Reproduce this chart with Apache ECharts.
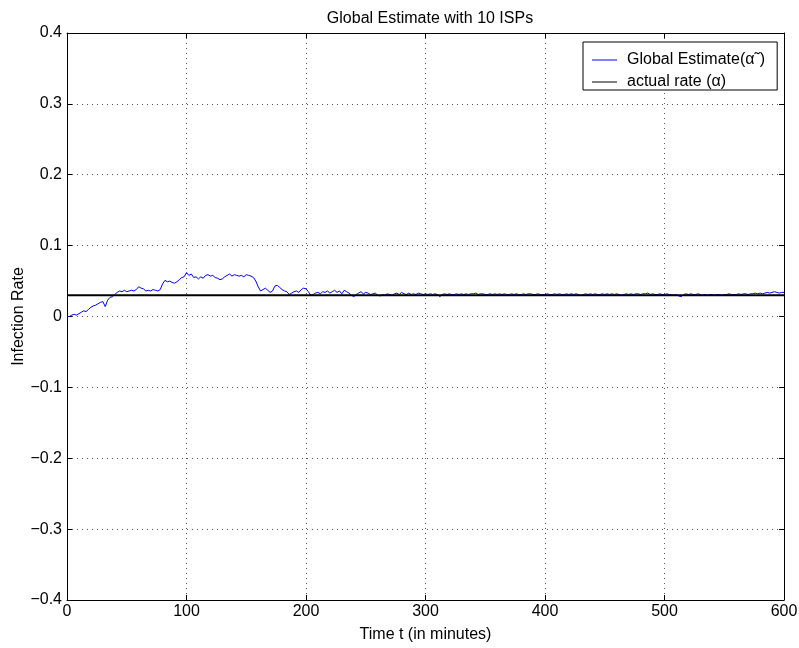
<!DOCTYPE html>
<html>
<head>
<meta charset="utf-8">
<script src="https://cdn.jsdelivr.net/npm/echarts@6/dist/echarts.min.js"></script>
<style>html,body{margin:0;padding:0;background:#fff;}#c{width:799px;height:648px;}</style>
</head>
<body>
<div id="c"></div>
<script>
var titleText = 'Global Estimate with 10 ISPs';
var xName = 'Time t (in minutes)';
var yName = 'Infection Rate';
var seriesNames = ['Global Estimate(\u03B1\u02DC)', 'actual rate (\u03B1)'];
var timeStep = 2; // minutes between samples
var estimate = [
 0.000,0.000,0.002,0.003,0.002,0.004,0.006,0.008,0.007,0.010,
 0.013,0.015,0.016,0.018,0.020,0.021,0.014,0.023,0.027,0.028,
 0.031,0.034,0.036,0.035,0.037,0.035,0.036,0.037,0.036,0.038,
 0.042,0.040,0.039,0.036,0.037,0.036,0.038,0.037,0.036,0.038,
 0.046,0.051,0.049,0.050,0.048,0.047,0.049,0.052,0.055,0.056,
 0.062,0.058,0.060,0.055,0.056,0.053,0.056,0.054,0.058,0.059,
 0.057,0.058,0.055,0.054,0.052,0.053,0.056,0.058,0.060,0.057,
 0.059,0.058,0.057,0.058,0.056,0.059,0.058,0.057,0.055,0.050,
 0.042,0.036,0.038,0.040,0.037,0.034,0.036,0.043,0.044,0.041,
 0.038,0.036,0.035,0.031,0.033,0.035,0.036,0.034,0.038,0.040,
 0.039,0.035,0.030,0.031,0.033,0.034,0.032,0.035,0.034,0.036,
 0.033,0.035,0.037,0.034,0.036,0.032,0.037,0.035,0.033,0.030,
 0.028,0.031,0.033,0.035,0.032,0.034,0.033,0.031,0.032,0.033,
 0.030,0.029,0.031,0.030,0.032,0.031,0.030,0.032,0.033,0.031,
 0.034,0.032,0.031,0.033,0.031,0.032,0.031,0.033,0.032,0.031,
 0.032,0.031,0.032,0.031,0.032,0.031,0.028,0.031,0.032,0.031,
 0.032,0.031,0.031,0.032,0.031,0.032,0.031,0.032,0.031,0.032,
 0.032,0.033,0.031,0.032,0.032,0.031,0.031,0.032,0.031,0.032,
 0.031,0.032,0.031,0.032,0.031,0.031,0.032,0.031,0.032,0.031,
 0.031,0.032,0.031,0.032,0.032,0.031,0.031,0.032,0.031,0.031,
 0.031,0.032,0.031,0.031,0.032,0.031,0.032,0.031,0.031,0.032,
 0.031,0.032,0.031,0.032,0.031,0.030,0.031,0.032,0.031,0.032,
 0.031,0.032,0.031,0.031,0.032,0.031,0.032,0.031,0.032,0.031,
 0.032,0.031,0.030,0.031,0.032,0.031,0.032,0.031,0.032,0.032,
 0.031,0.032,0.032,0.033,0.031,0.032,0.031,0.031,0.032,0.031,
 0.031,0.032,0.031,0.031,0.030,0.031,0.029,0.028,0.031,0.032,
 0.031,0.032,0.031,0.031,0.032,0.031,0.030,0.031,0.030,0.031,
 0.031,0.030,0.031,0.031,0.030,0.031,0.031,0.032,0.031,0.031,
 0.031,0.032,0.031,0.032,0.032,0.031,0.032,0.032,0.033,0.032,
 0.033,0.032,0.033,0.034,0.033,0.034,0.035,0.034,0.033,0.034,
 0.034
];
var actualRate = 0.03;
var actualSpan = [0, 600];
var xTicks = [0, 600, 100];
var yTicks = [-0.4, 0.4, 0.1];

var estData = estimate.map(function (v, i) { return [i * timeStep, v]; });
var actData = actualSpan.map(function (t) { return [t, actualRate]; });

function fmtY(v) {
  var s = Math.abs(v) < 1e-9 ? '0' : v.toFixed(1);
  return s.replace('-', '\u2212');
}
var FONT = 'Liberation Sans, Arial, Helvetica, sans-serif';
var FS = 16;
var gridLine = { show: true, lineStyle: { color: '#555', width: 1, type: [1, 4] } };
var axisLine = { show: true, onZero: false, lineStyle: { color: '#000', width: 1 } };
var tick = { show: true, inside: true, length: 5, lineStyle: { color: '#000' } };

var chart = echarts.init(document.getElementById('c'), null, { renderer: 'canvas' });
chart.setOption({
  animation: false,
  backgroundColor: '#fff',
  textStyle: { fontFamily: FONT },
  title: {
    text: titleText, left: 425, top: 6, textAlign: 'center',
    textStyle: { fontFamily: FONT, fontSize: FS, fontWeight: 'normal', color: '#000' }
  },
  grid: { left: 67, right: 15, top: 33, bottom: 48, containLabel: false, outerBoundsMode: 'none' },
  legend: {
    orient: 'vertical', left: 583, top: 42,
    data: seriesNames,
    backgroundColor: '#fff', borderColor: '#000', borderWidth: 1,
    padding: [10, 12, 0, 9], itemGap: 6, itemWidth: 25, itemHeight: 1,
    icon: 'rect',
    textStyle: { fontFamily: FONT, fontSize: FS, color: '#000', padding: [0, 0, 0, 5] }
  },
  xAxis: [{
    type: 'value', min: xTicks[0], max: xTicks[1], interval: xTicks[2],
    name: xName, nameLocation: 'middle', nameGap: 27, nameMoveOverlap: false,
    nameTextStyle: { fontFamily: FONT, fontSize: FS, color: '#000' },
    axisLine: axisLine, axisTick: tick, splitLine: gridLine,
    axisLabel: { color: '#000', fontSize: FS, fontFamily: FONT, margin: 4 }
  }, {
    type: 'value', position: 'top', min: xTicks[0], max: xTicks[1], interval: xTicks[2],
    axisLine: axisLine, axisTick: tick, splitLine: { show: false }, axisLabel: { show: false }
  }],
  yAxis: [{
    type: 'value', min: yTicks[0], max: yTicks[1], interval: yTicks[2],
    name: yName, nameLocation: 'middle', nameGap: 40, nameMoveOverlap: false,
    nameTextStyle: { fontFamily: FONT, fontSize: FS, color: '#000' },
    axisLine: axisLine, axisTick: tick, splitLine: gridLine,
    axisLabel: { color: '#000', fontSize: FS, fontFamily: FONT, margin: 5, formatter: fmtY }
  }, {
    type: 'value', position: 'right', min: yTicks[0], max: yTicks[1], interval: yTicks[2],
    axisLine: axisLine, axisTick: tick, splitLine: { show: false }, axisLabel: { show: false }
  }],
  series: [{
    name: seriesNames[0], type: 'line', data: estData, showSymbol: false, symbol: 'none',
    lineStyle: { color: '#0000ff', width: 1 }, itemStyle: { color: '#0000ff' }, z: 3
  }, {
    name: seriesNames[1], type: 'line', data: actData, showSymbol: false, symbol: 'none',
    lineStyle: { color: '#000', width: 2 }, itemStyle: { color: '#000' }, z: 4
  }]
});
</script>
</body>
</html>
